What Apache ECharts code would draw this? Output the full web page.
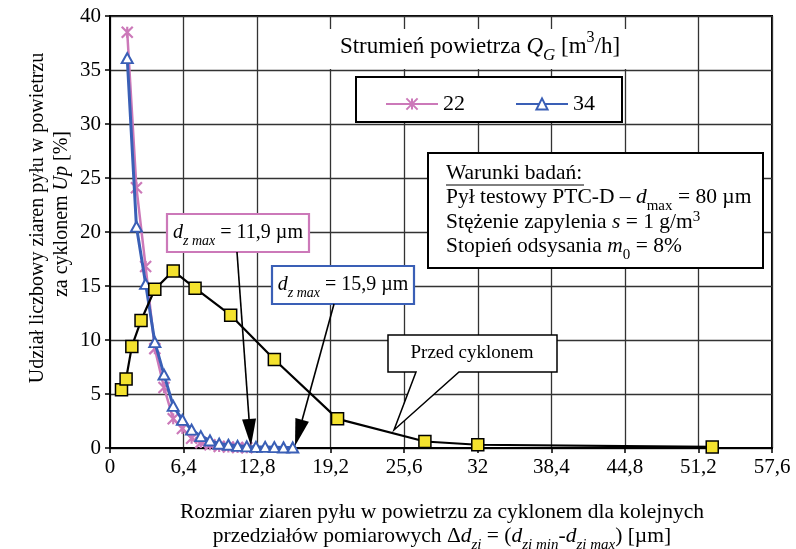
<!DOCTYPE html>
<html><head><meta charset="utf-8">
<script src="https://cdn.jsdelivr.net/npm/echarts@6/dist/echarts.min.js"></script>
<style>html,body{margin:0;padding:0;background:#fff}#c{width:796px;height:549px}</style>
</head><body><div id="c"></div>
<script>
// ---- data ----
const xTicks = [0, 6.4, 12.8, 19.2, 25.6, 32, 38.4, 44.8, 51.2, 57.6];
const xPrzed = [1.0, 1.4, 1.9, 2.7, 3.9, 5.5, 7.4, 10.5, 14.3, 19.8, 27.4, 32.0, 52.4];
const yPrzed = [5.4, 6.4, 9.4, 11.8, 14.7, 16.4, 14.8, 12.3, 8.2, 2.7, 0.6, 0.3, 0.1];
const x22 = [1.5, 2.3, 3.1, 3.9, 4.7, 5.5, 6.3, 7.1, 7.9, 8.7, 9.5, 10.3, 11.1, 11.9];
const y22 = [38.5, 24.1, 16.8, 9.2, 5.6, 2.7, 1.8, 0.9, 0.5, 0.3, 0.15, 0.1, 0.05, 0.02];
const x34 = [1.5, 2.3, 3.1, 3.9, 4.7, 5.5, 6.3, 7.1, 7.9, 8.7, 9.5, 10.3, 11.1, 11.9, 12.7, 13.5, 14.3, 15.1, 15.9];
const y34 = [36.1, 20.5, 15.2, 9.8, 6.8, 3.9, 2.6, 1.7, 1.1, 0.7, 0.4, 0.3, 0.2, 0.15, 0.1, 0.1, 0.08, 0.05, 0.05];

const SERIF = '"Liberation Serif", "Times New Roman", serif';
const PINK = '#cc79b9', BLUE = '#3a5fb6', YEL = '#f4e22e';
const pair = (xs, ys) => xs.map((x, i) => [x, ys[i]]);
const fmt = v => String(Math.round(v * 10) / 10).replace('.', ',');

const rich = (fs) => ({
  i: { fontFamily: SERIF, fontSize: fs, fontStyle: 'italic', color: '#000' },
  sub: { fontFamily: SERIF, fontSize: Math.round(fs * 0.72), fontStyle: 'italic', color: '#000', verticalAlign: 'bottom', lineHeight: fs * 1.5 },
  subr: { fontFamily: SERIF, fontSize: Math.round(fs * 0.72), color: '#000', verticalAlign: 'bottom', lineHeight: fs * 1.5 },
  sup: { fontFamily: SERIF, fontSize: Math.round(fs * 0.7), color: '#000', verticalAlign: 'top', lineHeight: fs * 1.15 }
});
function txt(x, y, text, fs, align) {
  return {
    type: 'text', z: 20,
    style: { x, y, text, fontFamily: SERIF, fontSize: fs, fill: '#000', align: align || 'center', verticalAlign: 'middle', rich: rich(fs) }
  };
}
function arrow(x1, y1, x2, y2) {
  const dx = x2 - x1, dy = y2 - y1, L = Math.hypot(dx, dy), ux = dx / L, uy = dy / L;
  const hl = 27, hw = 7;
  const bx = x2 - ux * hl, by = y2 - uy * hl;
  return [
    { type: 'line', z: 15, shape: { x1, y1, x2: bx, y2: by }, style: { stroke: '#000', lineWidth: 1.6 } },
    { type: 'polygon', z: 15, shape: { points: [[x2, y2], [bx - uy * hw, by + ux * hw], [bx + uy * hw, by - ux * hw]] }, style: { fill: '#000' } }
  ];
}

const chart = echarts.init(document.getElementById('c'), null, { renderer: 'canvas' });
const starPath = 'path://M0,0L10,10M10,0L0,10M5,0L5,10';

const graphic = [
  // title background + text
  { type: 'rect', z: 3, shape: { x: 326, y: 29, width: 318, height: 40 }, style: { fill: '#fff' } },
  txt(480, 47, 'Strumień powietrza {i|Q}{sub|G} [m{sup|3}/h]', 23),
  // legend box
  { type: 'rect', z: 3, shape: { x: 356, y: 77, width: 266, height: 45 }, style: { fill: '#fff', stroke: '#000', lineWidth: 2 } },
  // conditions box
  { type: 'rect', z: 10, shape: { x: 428, y: 153, width: 335, height: 115 }, style: { fill: '#fff', stroke: '#000', lineWidth: 2 } },
  txt(446, 173, 'Warunki badań:', 21.5, 'left'),
  { type: 'line', z: 20, shape: { x1: 446, y1: 185, x2: 584, y2: 185 }, style: { stroke: '#000', lineWidth: 1 } },
  txt(446, 197, 'Pył testowy PTC-D – {i|d}{subr|max} = 80 µm', 21.5, 'left'),
  txt(446, 222, 'Stężenie zapylenia {i|s} = 1 g/m{sup|3}', 21.5, 'left'),
  txt(446, 246, 'Stopień odsysania {i|m}{subr|0} = 8%', 21.5, 'left'),
  // dz max boxes
  { type: 'rect', z: 10, shape: { x: 167, y: 214, width: 142, height: 38 }, style: { fill: '#fff', stroke: PINK, lineWidth: 2.2 } },
  txt(238, 233, '{i|d}{sub|z max} = 11,9 µm', 20),
  { type: 'rect', z: 10, shape: { x: 272, y: 266, width: 142, height: 38 }, style: { fill: '#fff', stroke: BLUE, lineWidth: 2.2 } },
  txt(343, 285, '{i|d}{sub|z max} = 15,9 µm', 20),
  ...arrow(237, 252, 251, 446),
  ...arrow(334, 304, 295, 446),
  // callout
  { type: 'polygon', z: 10, shape: { points: [[388, 335], [557, 335], [557, 372], [459, 372], [394, 430], [416, 372], [388, 372]] }, style: { fill: '#fff', stroke: '#000', lineWidth: 1.5 } },
  txt(472, 353, 'Przed cyklonem', 19),
  // axis names
  { type: 'text', z: 20, rotation: Math.PI / 2, x: 38, y: 218, style: { x: 0, y: 0, text: 'Udział liczbowy ziaren pyłu w powietrzu', fontFamily: SERIF, fontSize: 20, fill: '#000', align: 'center', verticalAlign: 'middle' } },
  { type: 'text', z: 20, rotation: Math.PI / 2, x: 62, y: 214, style: { x: 0, y: 0, text: 'za cyklonem {i|Up} [%]', fontFamily: SERIF, fontSize: 20, fill: '#000', align: 'center', verticalAlign: 'middle', rich: rich(20) } },
  txt(442, 512, 'Rozmiar ziaren pyłu w powietrzu za cyklonem dla kolejnych', 21.5),
  txt(442, 536, 'przedziałów pomiarowych Δ{i|d}{sub|zi} = ({i|d}{sub|zi min}-{i|d}{sub|zi max}) [µm]', 21.5)
];

chart.setOption({
  animation: false,
  backgroundColor: '#fff',
  grid: { left: 110, right: 24, top: 16, bottom: 101, show: true, borderColor: '#000', borderWidth: 2, backgroundColor: 'transparent' },
  legend: {
    data: ['22', '34'], left: 385, top: 93, padding: 0, itemWidth: 52, itemHeight: 14, itemGap: 50,
    textStyle: { fontFamily: SERIF, fontSize: 22, color: '#000' }
  },
  xAxis: {
    type: 'value', min: xTicks[0], max: xTicks[xTicks.length - 1], interval: xTicks[1] - xTicks[0],
    axisLine: { lineStyle: { color: '#000', width: 2 } },
    axisTick: { show: true, length: 5, lineStyle: { color: '#000', width: 1.5 } },
    axisLabel: { formatter: fmt, fontFamily: SERIF, fontSize: 21, color: '#000', margin: 9 },
    splitLine: { show: true, lineStyle: { color: '#333', width: 1.3 } }
  },
  yAxis: {
    type: 'value', min: 0, max: 40, interval: 5,
    axisLine: { show: true, lineStyle: { color: '#000', width: 2 } },
    axisTick: { show: true, length: 5, lineStyle: { color: '#000', width: 1.5 } },
    axisLabel: { fontFamily: SERIF, fontSize: 21, color: '#000', margin: 9 },
    splitLine: { show: true, lineStyle: { color: '#333', width: 1.3 } }
  },
  series: [
    {
      name: '22', type: 'line', data: pair(x22, y22), symbol: starPath, symbolSize: 11, z: 2,
      lineStyle: { color: PINK, width: 2.5 },
      itemStyle: { color: PINK, borderColor: PINK, borderWidth: 2.2 }
    },
    {
      name: '34', type: 'line', data: pair(x34, y34), symbol: 'triangle', symbolSize: [11, 10], z: 3,
      lineStyle: { color: BLUE, width: 3 },
      itemStyle: { color: '#fff', borderColor: BLUE, borderWidth: 2 }
    },
    {
      name: 'Przed cyklonem', type: 'line', data: pair(xPrzed, yPrzed), symbol: 'rect', symbolSize: 12, z: 4,
      lineStyle: { color: '#000', width: 2.2 },
      itemStyle: { color: YEL, borderColor: '#000', borderWidth: 1.5 }
    }
  ],
  graphic: graphic
});
</script>
</body></html>
